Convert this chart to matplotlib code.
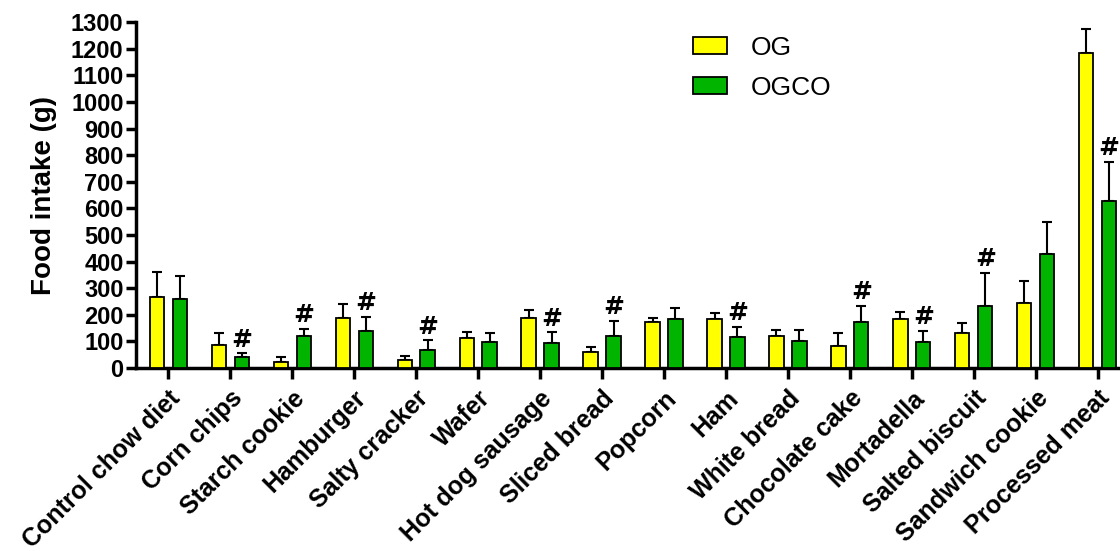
import numpy as np
import matplotlib.pyplot as plt

plt.rcParams['font.family'] = ['Liberation Sans', 'DejaVu Sans']

# datos
categorias = ["Control chow diet", "Corn chips", "Starch cookie", "Hamburger",
              "Salty cracker", "Wafer", "Hot dog sausage", "Sliced bread",
              "Popcorn", "Ham", "White bread", "Chocolate cake", "Mortadella",
              "Salted biscuit", "Sandwich cookie", "Processed meat"]
og = [268, 86, 22, 188, 30, 113, 188, 60, 173, 184, 120, 83, 184, 131, 244, 1185]
og_err = [92, 44, 18, 52, 15, 22, 30, 19, 15, 23, 23, 48, 26, 38, 83, 90]
ogco = [258, 41, 120, 139, 68, 98, 94, 120, 186, 116, 101, 173, 98, 233, 428, 626]
ogco_err = [88, 14, 27, 53, 37, 34, 41, 57, 40, 38, 42, 60, 41, 124, 121, 150]
significativo = [False, True, True, True, True, False, True, True,
                 False, True, False, True, True, True, False, True]

x = np.arange(len(categorias))
ancho = 0.23
sep = 0.185

fig = plt.figure(figsize=(11.2, 5.51), dpi=100)
ax = fig.add_axes([0.1215, 0.332, 0.878, 0.628])

ax.bar(x - sep, og, ancho, color="#FFFF00", edgecolor="black", linewidth=1.3,
       label="OG", zorder=3)
ax.bar(x + sep, ogco, ancho, color="#00B400", edgecolor="black", linewidth=1.3,
       label="OGCO", zorder=3)
ax.errorbar(x - sep, og, yerr=[np.zeros(len(og)), og_err], fmt="none",
            ecolor="black", elinewidth=1.5, capsize=3.5, capthick=1.5, zorder=2)
ax.errorbar(x + sep, ogco, yerr=[np.zeros(len(ogco)), ogco_err], fmt="none",
            ecolor="black", elinewidth=1.5, capsize=3.5, capthick=1.5, zorder=2)

for i in range(len(categorias)):
    if significativo[i]:
        ax.text(x[i] + sep, ogco[i] + ogco_err[i] + 6, "#", ha="center",
                va="bottom", fontsize=18, fontweight="bold", family="DejaVu Sans")

ax.set_xlim(-0.52, 15.35)
ax.set_ylim(0, 1300)
ax.set_yticks(np.arange(0, 1301, 100))
ax.set_xticks(x)
ax.set_xticklabels(categorias, rotation=45, ha="right", rotation_mode="anchor",
                   fontsize=18, fontweight="bold")
for lbl in ax.get_yticklabels():
    lbl.set_fontsize(17)
    lbl.set_fontweight("bold")
ax.set_ylabel("Food intake (g)", fontsize=20, fontweight="bold", labelpad=10)

for s in ["top", "right"]:
    ax.spines[s].set_visible(False)
for s in ["left", "bottom"]:
    ax.spines[s].set_linewidth(2.5)
ax.tick_params(axis="y", length=7, width=2.5, pad=2)
ax.tick_params(axis="x", length=8, width=2.5, pad=5)

ax.legend(loc="upper left", bbox_to_anchor=(0.566, 0.96), frameon=False,
          fontsize=19, handlelength=1.3, handleheight=0.65, labelspacing=0.6,
          handletextpad=0.9, borderaxespad=0, borderpad=0)

fig.savefig("out.png", dpi=100)
